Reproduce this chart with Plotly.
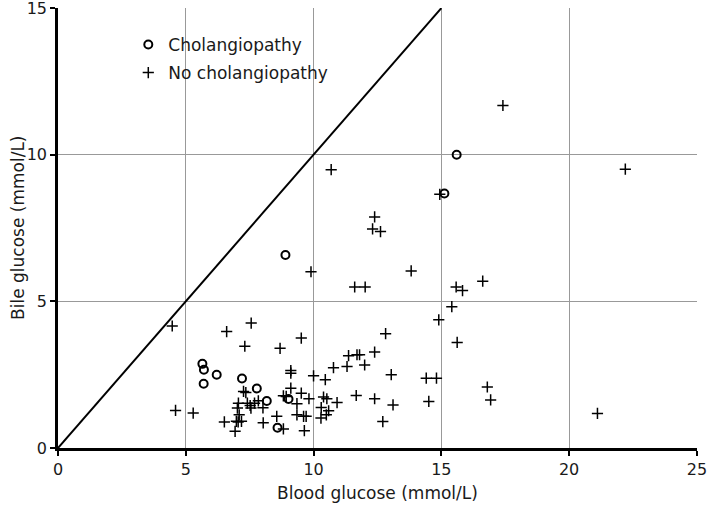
import plotly.graph_objects as go

# Cholangiopathy (open circles)
chol_x = [15.6, 15.12, 8.9, 5.65, 5.71, 5.70, 6.21, 7.20, 7.78, 8.17, 8.59, 9.02]
chol_y = [10.0, 8.68, 6.58, 2.87, 2.67, 2.19, 2.50, 2.37, 2.03, 1.60, 0.69, 1.67]

# No cholangiopathy (plus signs)
nochol_x = [17.41, 22.2, 10.69, 14.94, 12.39, 12.31, 12.62,
            9.90, 13.82, 11.61, 12.02, 15.58, 15.83, 16.62, 15.41, 14.90, 12.82,
            7.56, 6.60, 9.52, 4.47, 7.31,
            4.60, 5.29, 6.51, 6.93, 7.05,
            7.26, 7.35, 7.06, 7.02, 7.09, 6.98, 7.18,
            7.41, 7.52, 7.55, 7.69, 7.84, 8.02, 8.03, 8.56, 8.69,
            9.11, 9.11, 9.11, 8.82, 8.93, 9.52, 9.82, 9.35, 9.35, 9.61, 9.71,
            8.82, 9.64, 10.0, 10.46, 10.39, 10.52, 10.92, 10.30, 10.59, 10.50, 10.29,
            10.78, 11.31, 11.37, 11.70, 11.80, 12.0, 12.39, 11.67, 12.39, 12.71,
            15.62, 13.04, 14.41, 14.81, 16.80, 16.93, 13.11, 14.51, 21.11]
nochol_y = [11.68, 9.51, 9.49, 8.65, 7.88, 7.47, 7.38,
            6.01, 6.04, 5.49, 5.49, 5.49, 5.37, 5.69, 4.82, 4.37, 3.90,
            4.26, 3.97, 3.75, 4.16, 3.47,
            1.28, 1.19, 0.89, 0.57, 0.89,
            1.93, 1.89, 1.53, 1.36, 1.13, 0.91, 0.91,
            1.53, 1.45, 1.36, 1.53, 1.61, 1.37, 0.86, 1.08, 3.40,
            2.64, 2.55, 2.04, 1.78, 1.76, 1.87, 1.68, 1.51, 1.13, 1.08, 1.08,
            0.65, 0.59, 2.46, 2.33, 1.74, 1.68, 1.55, 1.38, 1.27, 1.13, 1.02,
            2.74, 2.78, 3.15, 3.18, 3.18, 2.83, 3.27, 1.79, 1.68, 0.90,
            3.60, 2.50, 2.38, 2.38, 2.08, 1.64, 1.47, 1.59, 1.18]

# Line of identity
line_x = [0, 15]
line_y = [0, 15]

x_ticks = [0, 5, 10, 15, 20, 25]
y_ticks = [0, 5, 10, 15]

FONT = "DejaVu Sans"
TXT = "#1a1a1a"

fig = go.Figure()
fig.add_trace(go.Scatter(x=line_x, y=line_y, mode="lines",
                         line=dict(color="black", width=2), showlegend=False,
                         hoverinfo="skip"))
fig.add_trace(go.Scatter(x=chol_x, y=chol_y, mode="markers", name="Cholangiopathy",
                         legendgroup="a",
                         marker=dict(symbol="circle-open", size=8, color="black",
                                     line=dict(width=2, color="black"))))
fig.add_trace(go.Scatter(x=nochol_x, y=nochol_y, mode="markers", name="No cholangiopathy",
                         legendgroup="b",
                         marker=dict(symbol="cross-thin-open", size=8, color="black",
                                     line=dict(width=1.5, color="black"))))

fig.update_layout(
    width=709, height=507,
    margin=dict(l=58, r=12, t=8, b=59),
    paper_bgcolor="white", plot_bgcolor="white",
    font=dict(family=FONT, size=16, color=TXT),
    legend=dict(x=0.11, y=0.957, xanchor="left", yanchor="top",
                bgcolor="rgba(0,0,0,0)", font=dict(size=17, color=TXT),
                traceorder="grouped", tracegroupgap=3),
    xaxis=dict(range=[0, 25.005], tickvals=x_ticks, showgrid=True, gridcolor="#999999",
               gridwidth=1, showline=True, linecolor="black", linewidth=2.5,
               ticks="outside", ticklen=5, tickwidth=2, tickcolor="black",
               zeroline=False, automargin=False, ticklabeloverflow="allow",
               title=dict(text="Blood glucose (mmol/L)", font=dict(size=17), standoff=10)),
    yaxis=dict(range=[0, 15.005], tickvals=y_ticks, showgrid=True, gridcolor="#999999",
               gridwidth=1, showline=True, linecolor="black", linewidth=2.5,
               ticks="outside", ticklen=5, tickwidth=2, tickcolor="black",
               zeroline=False, automargin=False, ticklabeloverflow="allow"),
    annotations=[dict(text="Bile glucose (mmol/L)", textangle=-90, xref="paper", yref="paper",
                      x=-0.0627, y=0.5, xanchor="center", yanchor="middle",
                      showarrow=False, font=dict(size=17, color=TXT))],
)

fig.write_html("out.html", config={"displayModeBar": False},
               post_script="document.body.style.margin='0';")
